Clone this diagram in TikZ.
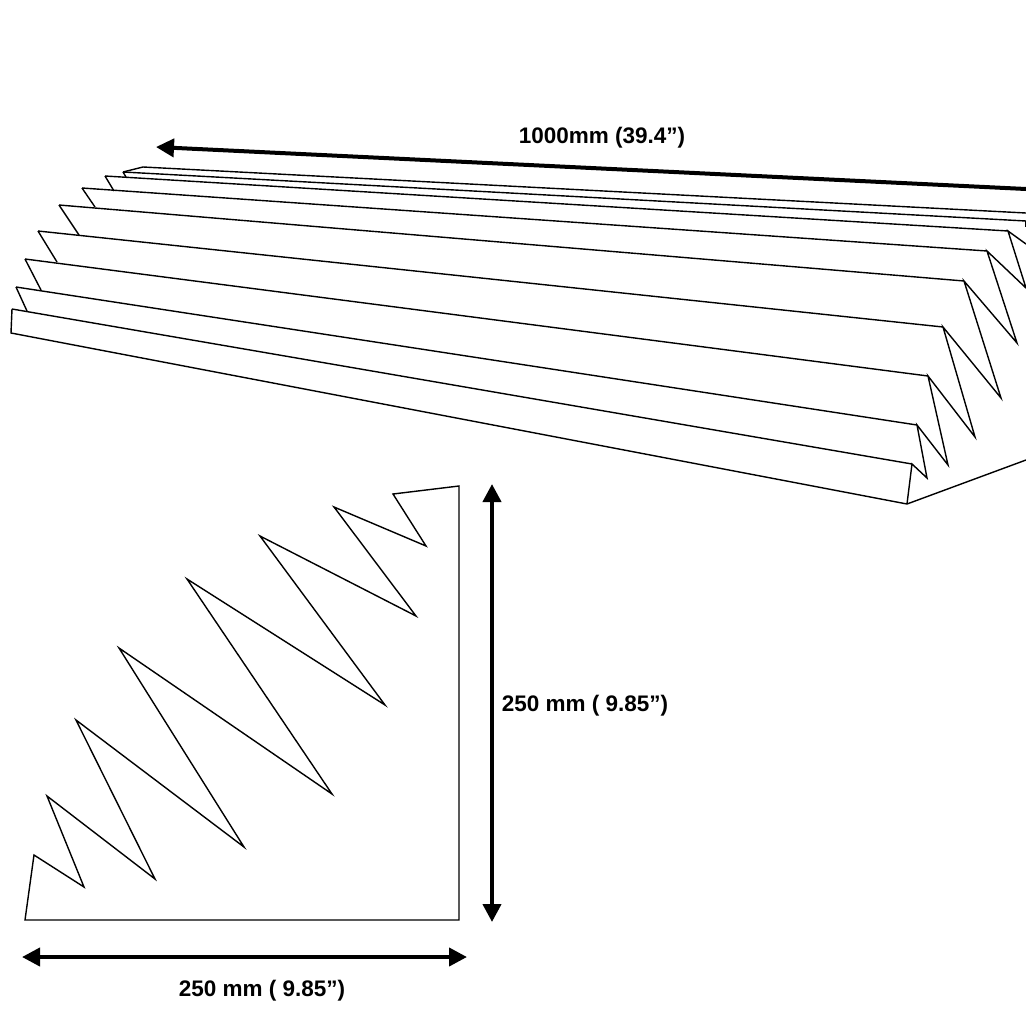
\documentclass[tikz,border=0pt]{standalone}
\usepackage{fontspec}
\setmainfont{Liberation Sans}
\usetikzlibrary{arrows.meta}
\tikzset{
  edgeline/.style={line width=1.4pt, line join=miter, black},
  dimarrow/.style={line width=4pt, black, {Triangle[length=18pt,width=18pt]}-{Triangle[length=18pt,width=18pt]}},
  toparrow/.style={line width=4pt, black, {Triangle[length=18pt,width=18pt]}-},
  dimlabel/.style={font=\bfseries\fontsize{22.5}{26}\selectfont, inner sep=0pt}
}
\begin{document}
\begin{tikzpicture}[x=1pt, y=-1pt]
  \useasboundingbox (0,0) rectangle (1026,1026);
  % long edges of the wedge panel
  \coordinate (L0) at (12,309);
  \coordinate (L1) at (16,287);
  \coordinate (L2) at (25,259);
  \coordinate (L3) at (38,231);
  \coordinate (L4) at (59,205);
  \coordinate (L5) at (82,188);
  \coordinate (L6) at (105,176);
  \coordinate (L7) at (123,172);
  \coordinate (L8) at (143,167);
  \coordinate (R0) at (912,464);
  \coordinate (R1) at (917,425);
  \coordinate (R2) at (928,376);
  \coordinate (R3) at (943,327);
  \coordinate (R4) at (964,281);
  \coordinate (R5) at (987,251);
  \coordinate (R6) at (1008,231);
  \coordinate (R7) at (1026,221);
  \coordinate (R8) at (1026,213);
  \draw[edgeline] (L0) -- (R0);
  \draw[edgeline] (L1) -- (R1);
  \draw[edgeline] (L2) -- (R2);
  \draw[edgeline] (L3) -- (R3);
  \draw[edgeline] (L4) -- (R4);
  \draw[edgeline] (L5) -- (R5);
  \draw[edgeline] (L6) -- (R6);
  \draw[edgeline] (L7) -- (R7);
  \draw[edgeline] (L8) -- (R8);
  % left end
  \draw[edgeline] (L0) -- (11,333) -- (907,504) -- (1026,460);
  \draw[edgeline] (L1) -- (27,311);
  \draw[edgeline] (L2) -- (41,290);
  \draw[edgeline] (L3) -- (57,262);
  \draw[edgeline] (L4) -- (79,235);
  \draw[edgeline] (L5) -- (95,207);
  \draw[edgeline] (L6) -- (114,191);
  \draw[edgeline] (L7) -- (126,177);
  \draw[edgeline] (L7) -- (L8);
  % right end
  \draw[edgeline] (907,504) -- (R0) -- (927,478) -- (R1) -- (948,465) -- (R2) -- (975,437) -- (R3) -- (1001,398) -- (R4) -- (1017,343) -- (R5) -- (1026,288) -- (R6) -- (1026,244);
  \draw[edgeline] (R7) -- (1026,227);
  % cross section
  \draw[edgeline] (25,920) -- (459,920) -- (459,486) -- (393,494) -- (426,546) -- (334,507) -- (416,616) -- (260,536) -- (385,705) -- (187,579) -- (332,794) -- (119,648) -- (244,847) -- (76,720) -- (155,879) -- (47,796) -- (84,887) -- (34,855) -- cycle;
  % dimensions
  \coordinate (A0) at (156,147);
  \coordinate (A1) at (1026,189);
  \coordinate (B0) at (492,484);
  \coordinate (B1) at (492,922);
  \coordinate (C0) at (22,957);
  \coordinate (C1) at (467,957);
  \draw[toparrow] (A0) -- (A1);
  \draw[dimarrow] (B0) -- (B1);
  \draw[dimarrow] (C0) -- (C1);
  \node[dimlabel] (lengthlabel) at (602,138) {1000mm (39.4”)};
  \node[dimlabel] (heightlabel) at (585,706) {250 mm ( 9.85”)};
  \node[dimlabel] (widthlabel) at (262,991) {250 mm ( 9.85”)};
\end{tikzpicture}
\end{document}
